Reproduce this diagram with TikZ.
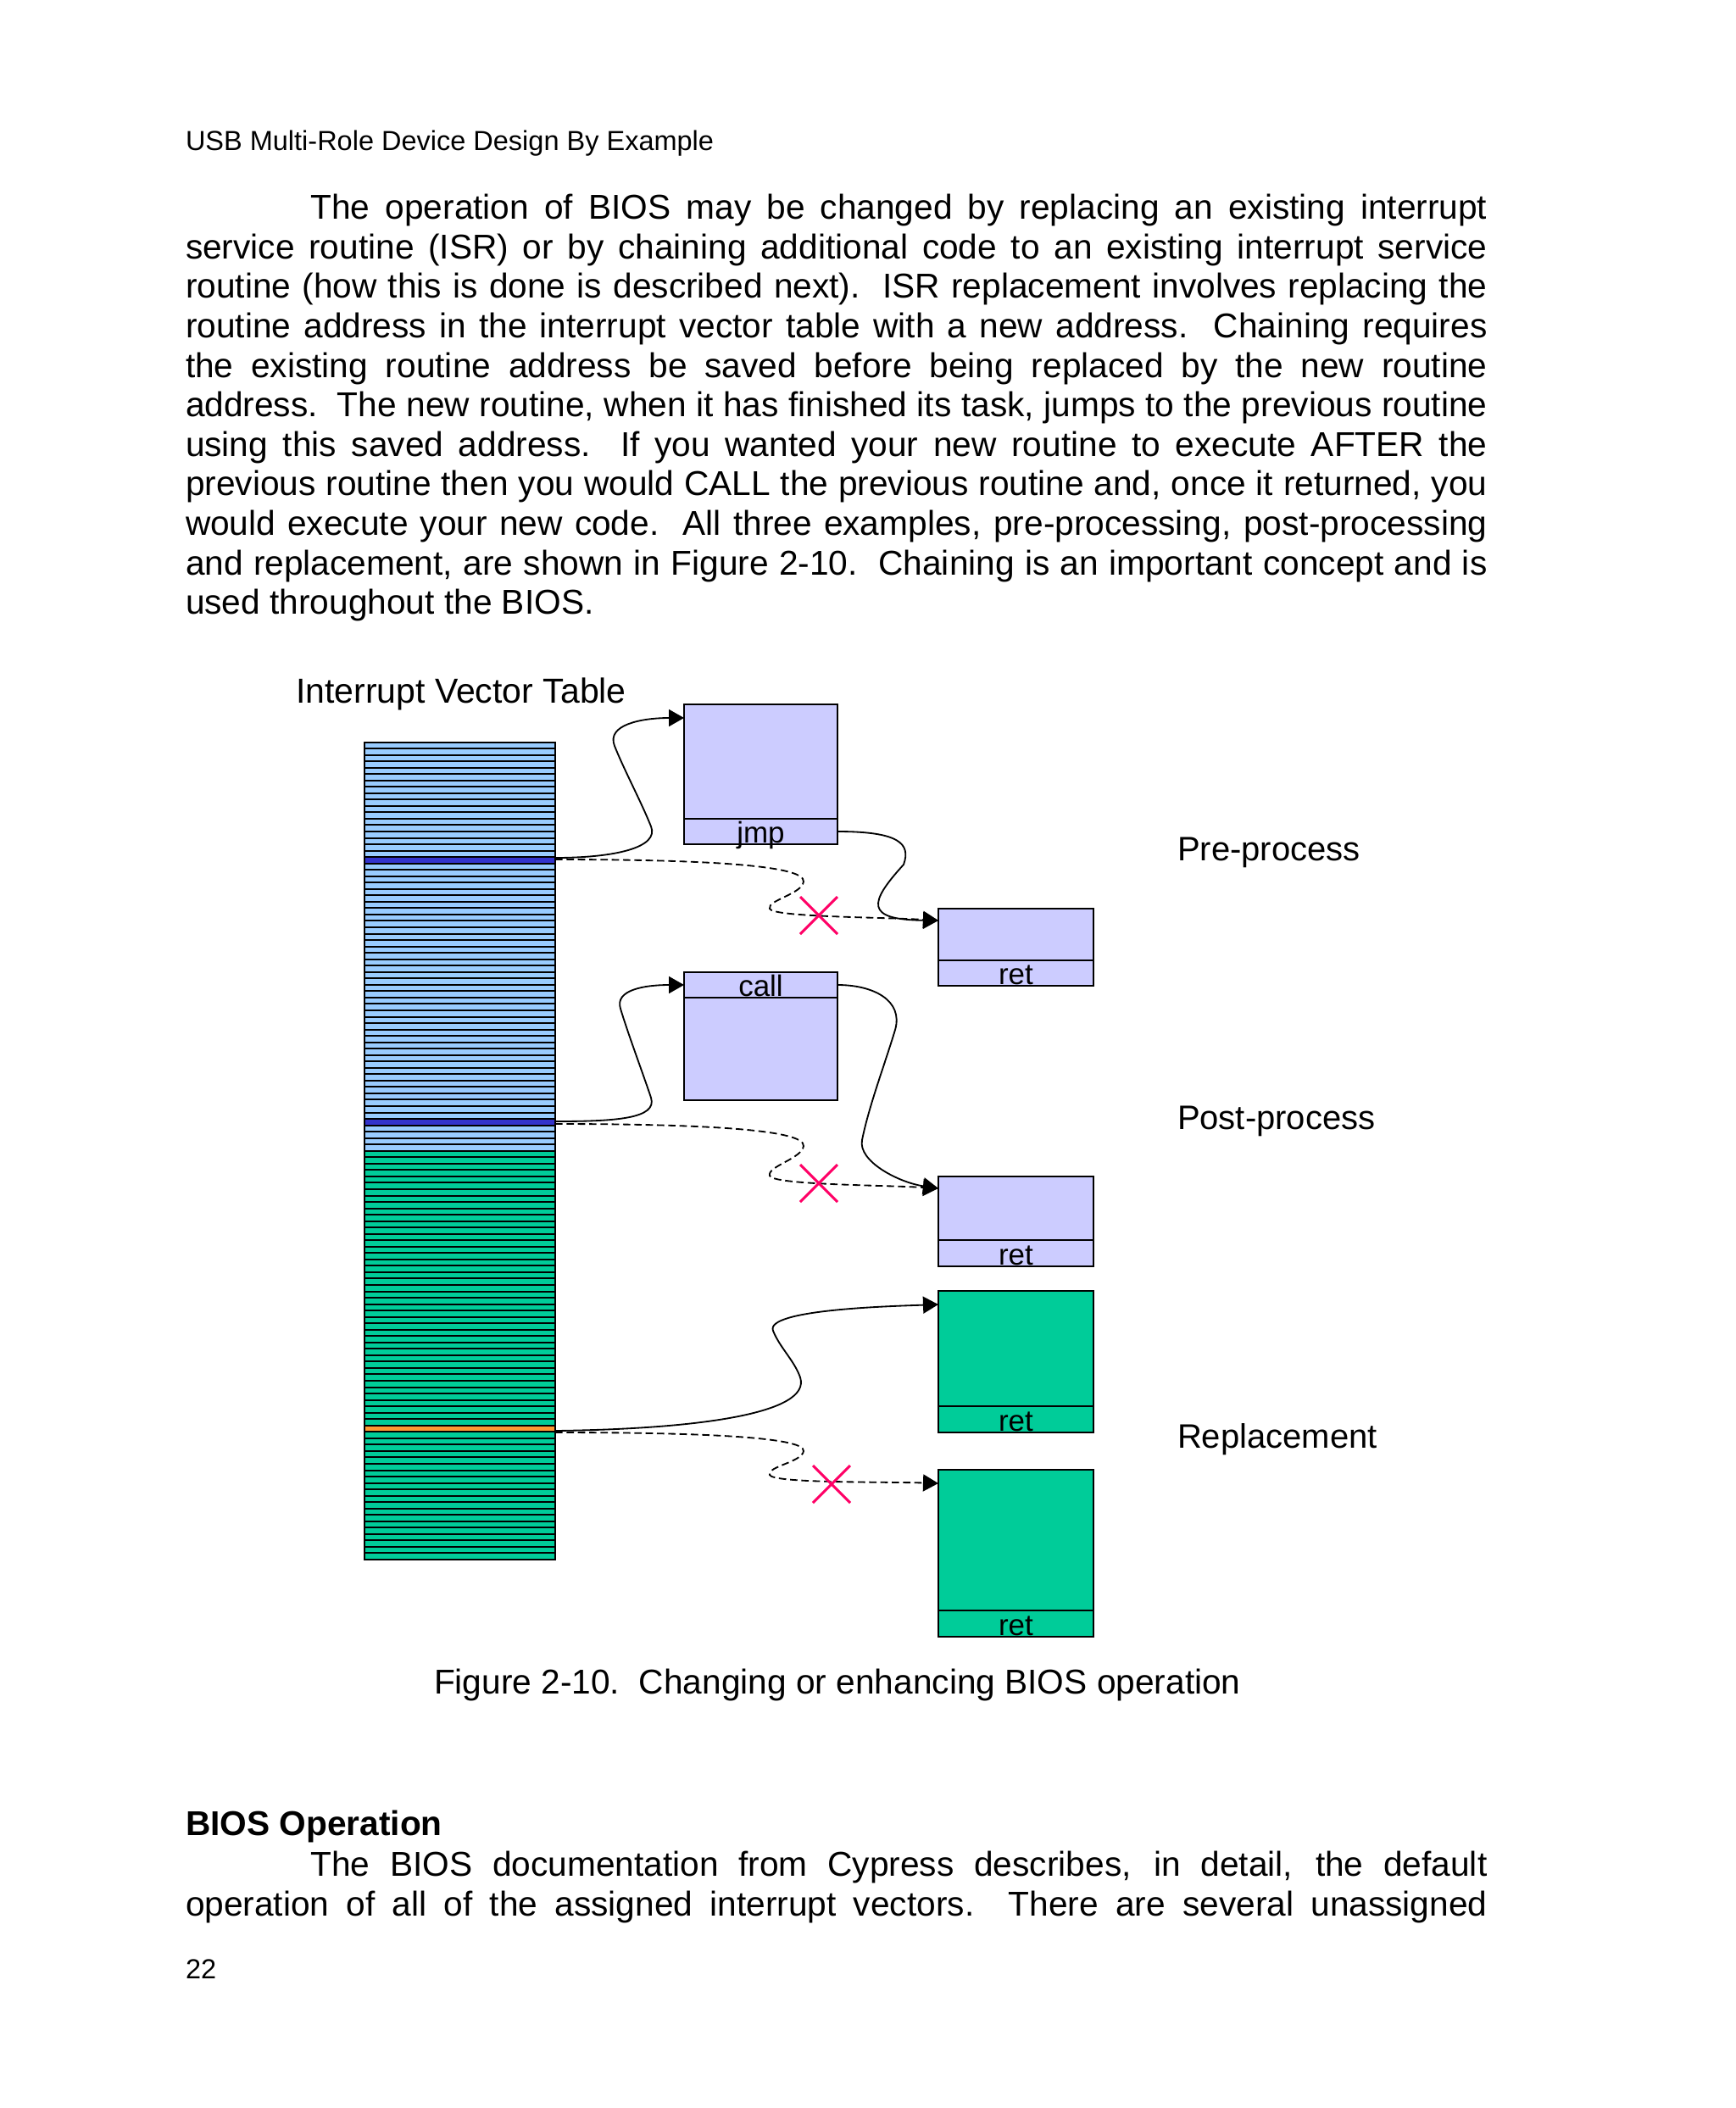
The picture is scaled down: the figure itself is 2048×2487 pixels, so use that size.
\documentclass[tikz,border=0pt]{standalone}
\usepackage{fontspec}
\setmainfont{Liberation Sans}
\usetikzlibrary{arrows.meta}
\definecolor{ivtblue}{HTML}{99CCFF}
\definecolor{ivtdark}{HTML}{3333CC}
\definecolor{ivtgreen}{HTML}{00CC99}
\definecolor{ivtorange}{HTML}{FF9933}
\definecolor{isrlav}{HTML}{CCCCFF}
\definecolor{crossred}{HTML}{FF0066}
\newcommand\jl[2]{\makebox[#1pt][s]{#2}}
\begin{document}
\begin{tikzpicture}[x=0.3pt,y=-0.3pt,
  txt/.style={anchor=base west, inner sep=0pt, outer sep=0pt, font=\fontsize{12.2pt}{14pt}\selectfont},
  side/.style={txt, font=\fontsize{12pt}{14pt}\selectfont},
  hdr/.style={txt, font=\fontsize{9.75pt}{12pt}\selectfont},
  rowline/.style={line width=0.6pt},
  isr/.style={draw=black, line width=0.6pt, fill=isrlav},
  rep/.style={draw=black, line width=0.6pt, fill=ivtgreen},
  link/.style={line width=0.55pt, -{Triangle[length=5.4pt,width=6pt]}},
  oldlink/.style={link, dash pattern=on 2.6pt off 1.4pt},
  cross/.style={draw=crossred, line width=0.9pt},
  lbl/.style={anchor=base, inner sep=0pt, outer sep=0pt, font=\fontsize{10.5pt}{12pt}\selectfont}
]
\useasboundingbox[fill=white] (0,0) rectangle (2048,2487);

% ---------- page text ----------
\node[hdr] (head) at (219,177.5) {USB Multi-Role Device Design By Example};
\node[txt] (p1) at (366.5,258.4) {\jl{416.4}{The operation of BIOS may be changed by replacing an existing interrupt}};
\node[txt] (p2) at (219,305.0) {\jl{460.7}{service routine (ISR) or by chaining additional code to an existing interrupt service}};
\node[txt] (p3) at (219,351.7) {\jl{460.7}{routine (how this is done is described next).\ \ ISR replacement involves replacing the}};
\node[txt] (p4) at (219,398.3) {\jl{460.7}{routine address in the interrupt vector table with a new address.\ \ Chaining requires}};
\node[txt] (p5) at (219,445.0) {\jl{460.7}{the existing routine address be saved before being replaced by the new routine}};
\node[txt] (p6) at (219,491.6) {\jl{460.7}{address.\ \ The new routine, when it has finished its task, jumps to the previous routine}};
\node[txt] (p7) at (219,538.2) {\jl{460.7}{using this saved address.\ \ If you wanted your new routine to execute AFTER the}};
\node[txt] (p8) at (219,584.9) {\jl{460.7}{previous routine then you would CALL the previous routine and, once it returned, you}};
\node[txt] (p9) at (219,631.5) {\jl{460.7}{would execute your new code.\ \ All three examples, pre-processing, post-processing}};
\node[txt] (p10) at (219,678.2) {\jl{460.7}{and replacement, are shown in Figure 2-10.\ \ Chaining is an important concept and is}};
\node[txt] (p11) at (219,724.8) {used throughout the BIOS.};

\node[txt, font=\fontsize{12.3pt}{14pt}\selectfont] (ivtlabel) at (349,829.5) {Interrupt Vector Table};
\node[side] (prelabel) at (1389,1015) {Pre-process};
\node[side] (postlabel) at (1389,1332) {Post-process};
\node[side] (replabel) at (1389,1708) {Replacement};
\node[txt] (caption) at (512,1998.6) {Figure 2-10.\ \ Changing or enhancing BIOS operation};

\node[txt, font=\fontsize{12.2pt}{14pt}\selectfont\bfseries] (sec) at (219,2165) {BIOS Operation};
\node[txt] (q1) at (366.5,2213) {\jl{416.4}{The BIOS documentation from Cypress describes, in detail, the default}};
\node[txt] (q2) at (219,2260) {\jl{460.7}{operation of all of the assigned interrupt vectors.\ \ There are several unassigned}};
\node[hdr] (pageno) at (219,2334) {22};

% ---------- interrupt vector table (128 rows) ----------
\fill[ivtblue] (430,875.5) rectangle (655,{875.5+64*7.535});
\fill[ivtgreen] (430,{875.5+64*7.535}) rectangle (655,{875.5+128*7.535});
\fill[ivtdark] (430,{875.5+18*7.535}) rectangle (655,{875.5+19*7.535});
\fill[ivtdark] (430,{875.5+59*7.535}) rectangle (655,{875.5+60*7.535});
\fill[ivtorange] (430,{875.5+107*7.535}) rectangle (655,{875.5+108*7.535});
\foreach \i in {1,...,127}{
  \draw[rowline] (430,{875.5+\i*7.535}) -- (655,{875.5+\i*7.535});
}
\draw[line width=0.6pt] (430,875.5) rectangle (655,{875.5+128*7.535});

% ---------- ISR boxes ----------
\draw[isr] (807,831) rectangle (988,996);
\draw[isr] (807,966) -- (988,966);
\node[lbl] (jmp) at (897.5,994.5) {jmp};

\draw[isr] (1107,1072) rectangle (1290,1163);
\draw[isr] (1107,1133) -- (1290,1133);
\node[lbl] (retB) at (1198.5,1161) {ret};

\draw[isr] (807,1147) rectangle (988,1298);
\draw[isr] (807,1177) -- (988,1177);
\node[lbl] (call) at (897.5,1175) {call};

\draw[isr] (1107,1388) rectangle (1290,1494);
\draw[isr] (1107,1463) -- (1290,1463);
\node[lbl] (retD) at (1198.5,1492) {ret};

\draw[rep] (1107,1523) rectangle (1290,1690);
\draw[rep] (1107,1659) -- (1290,1659);
\node[lbl] (retE) at (1198.5,1688) {ret};

\draw[rep] (1107,1734) rectangle (1290,1931);
\draw[rep] (1107,1900) -- (1290,1900);
\node[lbl] (retF) at (1198.5,1929) {ret};

% ---------- connector end points ----------
\coordinate (tPreS) at (655,1012);
\coordinate (tPreD) at (655,1014);
\coordinate (tPostS) at (655,1323);
\coordinate (tPostD) at (655,1326);
\coordinate (tRepS) at (655,1688);
\coordinate (tRepD) at (655,1690);
\coordinate (Ain) at (807,847);
\coordinate (Aout) at (988,981);
\coordinate (Bin) at (1107,1086);
\coordinate (Cin) at (807,1162);
\coordinate (Cout) at (988,1162);
\coordinate (Din) at (1107,1402);
\coordinate (Ein) at (1107,1539);
\coordinate (Fin) at (1107,1750);

% ---------- pre-process ----------
\draw[link] (tPreS) .. controls (725,1012) and (778,1000) .. (768,975)
  .. controls (756,945) and (737,910) .. (725,880)
  .. controls (715,855) and (757,847) .. (Ain);
\draw[oldlink] (tPreD) .. controls (820,1014) and (950,1020) .. (948,1040)
  .. controls (946,1055) and (905,1062) .. (908,1072)
  .. controls (911,1082) and (1040,1082) .. (Bin);
\draw[link] (Aout) .. controls (1060,981) and (1075,995) .. (1066,1020)
  .. controls (1025,1065) and (1020,1085) .. (Bin);

% ---------- post-process ----------
\draw[link] (tPostS) .. controls (725,1323) and (776,1320) .. (768,1295)
  .. controls (758,1265) and (741,1220) .. (732,1190)
  .. controls (725,1168) and (760,1162) .. (Cin);
\draw[oldlink] (tPostD) .. controls (820,1326) and (950,1332) .. (948,1352)
  .. controls (946,1367) and (905,1376) .. (908,1387)
  .. controls (911,1398) and (1040,1398) .. (Din);
\draw[link] (Cout) .. controls (1030,1162) and (1066,1180) .. (1056,1215)
  .. controls (1044,1255) and (1025,1305) .. (1017,1345)
  .. controls (1012,1370) and (1060,1395) .. (Din);

% ---------- replacement ----------
\draw[link] (tRepS) .. controls (820,1686) and (958,1668) .. (944,1625)
  .. controls (937,1605) and (920,1590) .. (912,1570)
  .. controls (902,1545) and (1050,1541) .. (Ein);
\draw[oldlink] (tRepD) .. controls (820,1690) and (950,1695) .. (948,1712)
  .. controls (946,1725) and (905,1730) .. (908,1740)
  .. controls (911,1750) and (1040,1748) .. (Fin);

% ---------- crosses ----------
\draw[cross] (944,1058) -- (988,1102) (988,1058) -- (944,1102);
\draw[cross] (944,1374) -- (988,1418) (988,1374) -- (944,1418);
\draw[cross] (959,1729) -- (1003,1773) (1003,1729) -- (959,1773);
\end{tikzpicture}
\end{document}
